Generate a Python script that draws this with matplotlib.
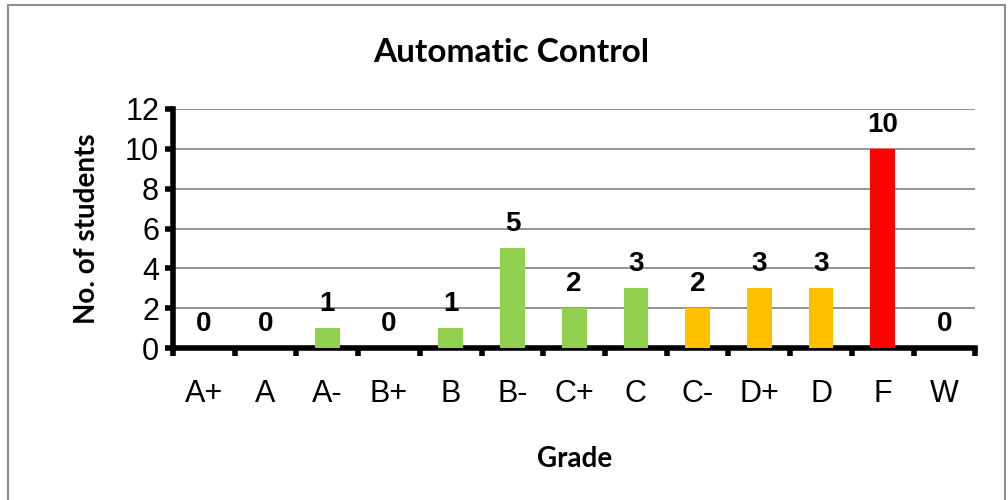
import matplotlib.pyplot as plt
from matplotlib.patches import Rectangle

grades = ["A+", "A", "A-", "B+", "B", "B-", "C+", "C", "C-", "D+", "D", "F", "W"]
students = [0, 0, 1, 0, 1, 5, 2, 3, 2, 3, 3, 10, 0]
colors = ["#92D050"] * 8 + ["#FFC000"] * 3 + ["#FF0000", "#92D050"]

fig = plt.figure(figsize=(10.08, 5.0), dpi=100)
fig.patches.append(Rectangle((0.008, -0.01), 0.989, 1.0, transform=fig.transFigure,
                             fill=False, edgecolor="#8c8c8c", linewidth=1.5))
ax = fig.add_axes([0.1716, 0.304, 0.796, 0.478])

x = range(len(grades))
ax.bar(x, students, width=0.4, color=colors, zorder=3)
for i, v in enumerate(students):
    ax.annotate(str(v), (i, v), xytext=(0, 8), textcoords="offset points",
                ha="center", va="bottom", fontsize=20, fontweight="bold",
                family="Liberation Sans")

ax.set_xlim(-0.5, len(grades) - 0.5)
ax.set_ylim(0, 12)
ax.set_yticks(range(0, 13, 2))
ax.yaxis.grid(True, color="#8c8c8c", linewidth=1.3, zorder=0)
ax.set_xticks([i - 0.5 for i in range(len(grades) + 1)])
ax.set_xticklabels([])
ax.set_xticks(list(x), minor=True)
ax.set_xticklabels(grades, minor=True, fontsize=22, family="Liberation Sans")
ax.tick_params(axis="x", which="minor", length=0, pad=22)
ax.tick_params(axis="x", which="major", length=6, width=4, direction="out")
ax.tick_params(axis="y", length=6, width=4, direction="out", labelsize=22, pad=4)
for t in ax.get_yticklabels():
    t.set_family("Liberation Sans")

for s in ["top", "right"]:
    ax.spines[s].set_visible(False)
ax.spines["left"].set_linewidth(4)
ax.spines["bottom"].set_linewidth(4)

fig.text(0.507, 0.896, "Automatic Control", fontsize=24, fontweight="bold",
         family="Lato", ha="center", va="center")
ax.set_xlabel("Grade", fontsize=20, fontweight="bold", family="Lato", labelpad=27)
ax.set_ylabel("No. of students", fontsize=20, fontweight="bold", family="Lato", labelpad=18)

fig.savefig("out.png", dpi=100)
